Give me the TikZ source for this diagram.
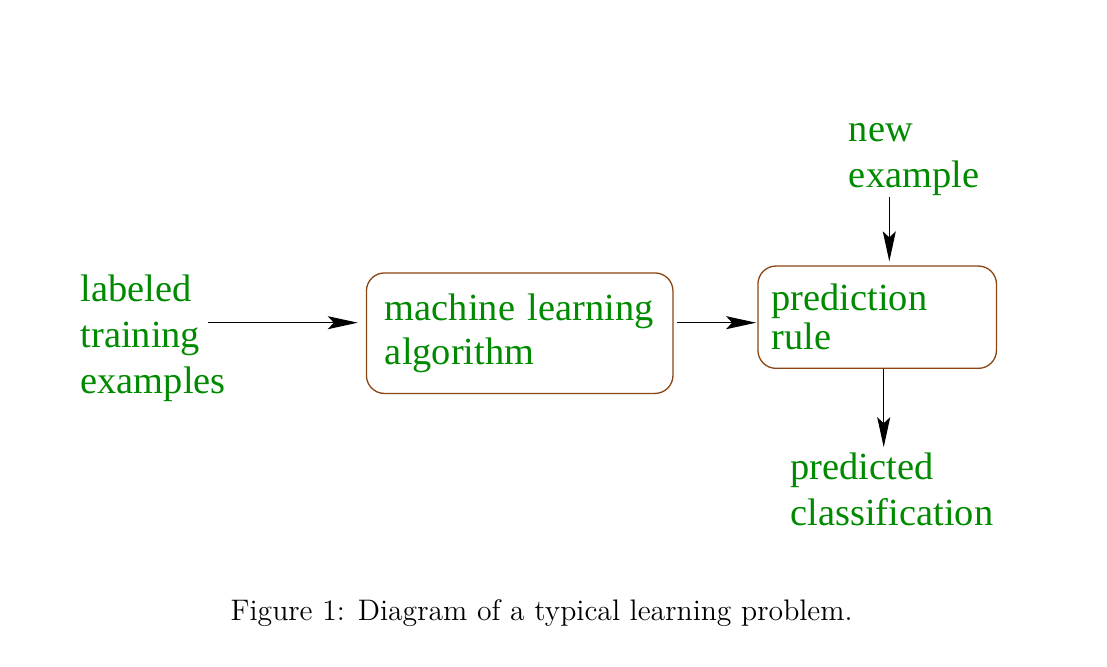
\documentclass[tikz,border=0pt]{standalone}
\usepackage{fontspec}
\newfontfamily\figfont{Liberation Serif}
\usetikzlibrary{arrows.meta, positioning}
\definecolor{tgreen}{HTML}{008A00}
\definecolor{tbrown}{HTML}{8B4513}
\tikzset{
  every picture/.style={line width=0.65pt},
  lbl/.style={text=tgreen, align=left, inner sep=0pt, anchor=base west,
    font=\figfont\fontsize{19.2}{23}\selectfont},
  box/.style={draw=tbrown, rounded corners=9pt, text=tgreen, align=left,
    inner ysep=0pt, font=\figfont\fontsize{19.2}{22}\selectfont},
  arrow/.style={-{Stealth[length=15pt, width=6.5pt, inset=3pt]}, draw=black},
  caption/.style={font=\fontsize{14.85}{17}\selectfont, inner sep=0pt, anchor=base west},
}
\begin{document}
\begin{tikzpicture}[x=0.5pt, y=-0.5pt]
  \useasboundingbox (0,0) rectangle (1107,667);
  % inputs and outputs
  \node[lbl, text width=72pt] (train) at (80,302) {labeled\\training\\examples};
  \node[lbl, text width=70pt] (newex) at (848.3,141.7) {new\\example};
  \node[lbl, text width=105pt, font=\figfont\fontsize{19.2}{22.6}\selectfont] (pred) at (790,480) {predicted\\classification};
  % the two boxes
  \node[box, minimum width=153.25pt, minimum height=60.25pt, text width=134.75pt, inner xsep=9.25pt] (alg) at (519.7,333.2) {machine learning\\algorithm};
  \node[box, minimum width=119.25pt, minimum height=51.15pt, text width=105.55pt, inner xsep=6.85pt,
    font=\figfont\fontsize{19.2}{19.5}\selectfont] (rule) at (877.2,317.2) {prediction\\rule};
  % connectors
  \coordinate (inpt) at (207.7,322.7);
  \coordinate (xnew) at (889.3,0);
  \coordinate (xout) at (883.7,0);
  \draw[arrow, shorten >=4pt] (inpt) -- (alg.west |- inpt);
  \draw[arrow, shorten <=1.5pt, shorten >=0.6pt] (alg.east |- inpt) -- (rule.west |- inpt);
  \draw[arrow, shorten >=2pt] (newex.south -| xnew) -- (rule.north -| xnew);
  \draw[arrow, shorten >=2.75pt] (rule.south -| xout) -- (pred.north -| xout);
  % caption
  \node[caption] (cap) at (230,620) {Figure 1: Diagram of a typical learning problem.};
\end{tikzpicture}
\end{document}
